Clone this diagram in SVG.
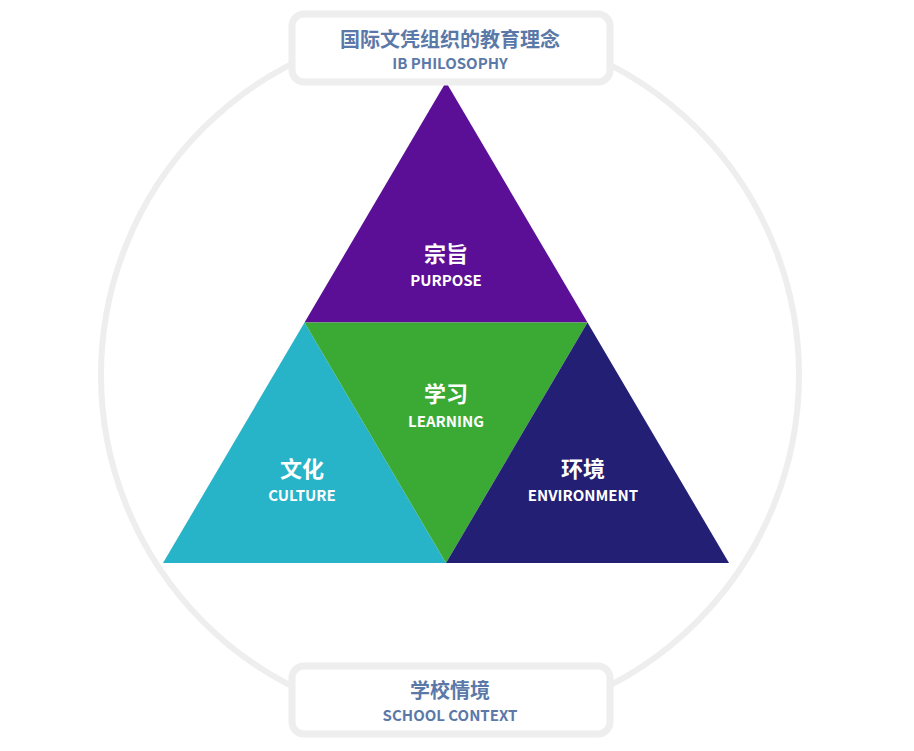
<svg xmlns="http://www.w3.org/2000/svg" width="914" height="751" viewBox="0 0 914 751">
<style>
.box{fill:#fff;stroke:#eeeeee;stroke-width:7}
.bt{font-family:"Noto Sans CJK SC",sans-serif;font-weight:700;fill:#5b79a8;text-anchor:middle}
.wt{font-family:"Noto Sans CJK SC",sans-serif;font-weight:700;fill:#fff;text-anchor:middle}
</style>
<rect width="914" height="751" fill="#fff"/>
<g id="connectors"><circle cx="450" cy="375" r="349" fill="none" stroke="#eeeeee" stroke-width="6"/></g>
<g id="purpose"><polygon points="446,82 304.5,322.5 587.5,322.5" fill="#5b0f96"/>
<text class="wt" x="446" y="262" font-size="22">宗旨</text><text class="wt" x="446" y="286" font-size="15">PURPOSE</text></g>
<g id="culture"><polygon points="304.5,322.5 163,563 446,563" fill="#27b3c8"/>
<text class="wt" x="302" y="477" font-size="22">文化</text><text class="wt" x="302" y="501" font-size="15">CULTURE</text></g>
<g id="learning"><polygon points="304.5,322.5 587.5,322.5 446,563" fill="#3aaa35"/>
<text class="wt" x="446" y="402" font-size="22">学习</text><text class="wt" x="446" y="427" font-size="15">LEARNING</text></g>
<g id="environment"><polygon points="587.5,322.5 446,563 729,563" fill="#231f74"/>
<text class="wt" x="583" y="477" font-size="22">环境</text><text class="wt" x="583" y="501" font-size="15">ENVIRONMENT</text></g>
<g id="philosophy"><rect class="box" x="292" y="14" width="318" height="68" rx="12"/>
<text class="bt" x="450" y="47" font-size="20">国际文凭组织的教育理念</text><text class="bt" x="450" y="69" font-size="15">IB PHILOSOPHY</text></g>
<g id="context"><rect class="box" x="292" y="666" width="318" height="68" rx="12"/>
<text class="bt" x="450" y="698" font-size="20">学校情境</text><text class="bt" x="450" y="721" font-size="15">SCHOOL CONTEXT</text></g>
</svg>
